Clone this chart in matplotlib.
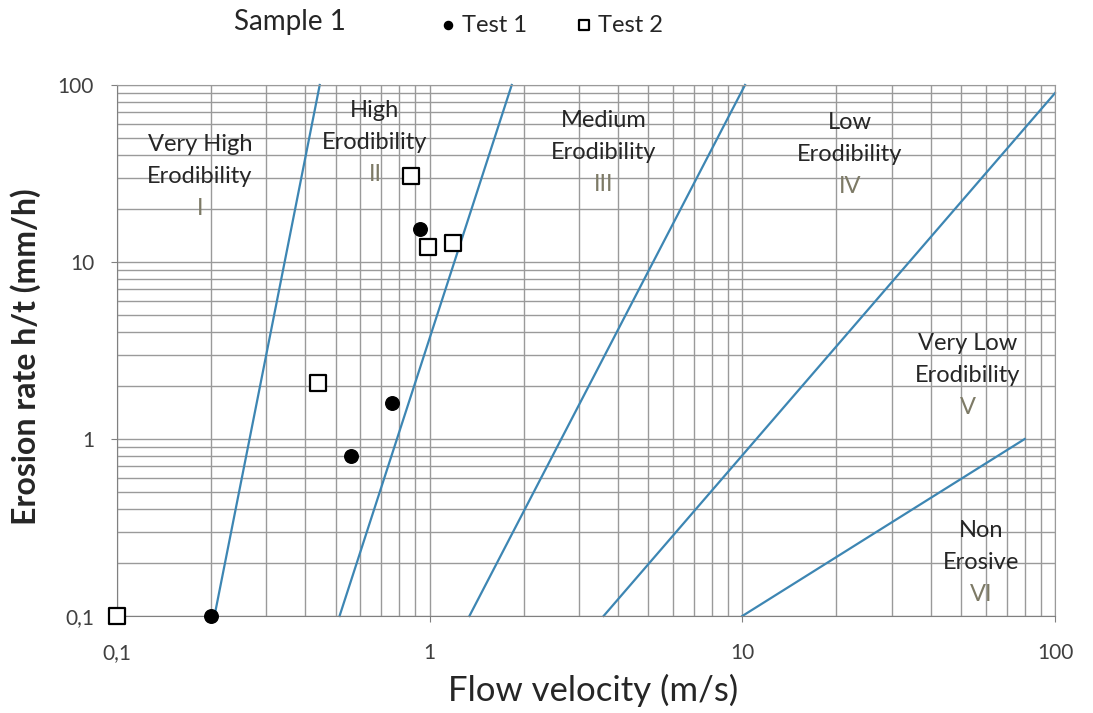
import numpy as np
import matplotlib.pyplot as plt
from matplotlib.ticker import FixedLocator, LogLocator, NullFormatter

plt.rcParams['font.family'] = ['Lato', 'DejaVu Sans']

# test results: velocity (m/s), erosion rate (mm/h)
test1_v = [0.2, 0.56, 0.76, 0.93]
test1_e = [0.1, 0.80, 1.6, 15.4]
test2_v = [0.1, 0.44, 0.87, 0.99, 1.19]
test2_e = [0.1, 2.07, 30.5, 12.2, 12.8]

# erodibility category boundaries (start/end points)
bound_v = [(0.205, 0.445), (0.515, 1.83), (1.34, 10.2), (3.6, 100), (10, 80)]
bound_e = [(0.1, 100), (0.1, 100), (0.1, 100), (0.1, 90), (0.1, 1)]

zone_names = [("Very High", "Erodibility"), ("High", "Erodibility"),
              ("Medium", "Erodibility"), ("Low", "Erodibility"),
              ("Very Low", "Erodibility"), ("Non", "Erosive")]
zone_roman = ["I", "II", "III", "IV", "V", "VI"]
# centre of the middle text line of each zone
zone_x = [0.184, 0.668, 3.61, 22.1, 52.7, 58.0]
zone_y = [30.6, 47.6, 41.8, 40.7, 2.27, 0.20]

xticks = [0.1, 1, 10, 100]
xtick_labels = ["0,1", "1", "10", "100"]
yticks = [0.1, 1, 10, 100]
ytick_labels = ["0,1", "1", "10", "100"]

W, H = 1093, 713
fig = plt.figure(figsize=(W / 100, H / 100), dpi=100)
ax = fig.add_axes([117 / W, 1 - 616 / H, (1055 - 117) / W, (616 - 85) / H])
ax.set_xscale('log')
ax.set_yscale('log')
ax.set_xlim(0.1, 100)
ax.set_ylim(0.1, 100)

grid_col = '#9a9a9a'
text_col = '#262626'
ax.xaxis.set_minor_locator(LogLocator(base=10, subs=np.arange(2, 10)))
ax.yaxis.set_minor_locator(LogLocator(base=10, subs=np.arange(2, 10)))
ax.xaxis.set_minor_formatter(NullFormatter())
ax.yaxis.set_minor_formatter(NullFormatter())
ax.grid(True, which='both', color=grid_col, lw=1.0)
ax.set_axisbelow(True)

ax.xaxis.set_major_locator(FixedLocator(xticks))
ax.yaxis.set_major_locator(FixedLocator(yticks))
ax.set_xticklabels(xtick_labels)
ax.set_yticklabels(ytick_labels)
ax.tick_params(which='major', direction='out', length=4.5, color='#808080',
               labelsize=15, labelcolor='#404040')
ax.tick_params(axis='x', pad=15)
ax.tick_params(axis='y', pad=12)
ax.tick_params(which='minor', length=0)
for side in ['left', 'bottom']:
    ax.spines[side].set_color('#808080')
for side in ['top', 'right']:
    ax.spines[side].set_color(grid_col)

for v, e in zip(bound_v, bound_e):
    ax.plot(v, e, color='#3d86b3', lw=1.6, zorder=2, clip_on=False)

ax.scatter(test1_v, test1_e, s=95, marker='o', color='black', zorder=4,
           clip_on=False, label='Test 1')
ax.scatter(test2_v, test2_e, s=120, marker='s', facecolor='white',
           edgecolor='black', linewidth=1.6, zorder=4, clip_on=False,
           label='Test 2')

# three-line zone labels, 32 px between lines
step = 32 * 72 / 100
for (l1, l2), rom, x, y in zip(zone_names, zone_roman, zone_x, zone_y):
    ax.annotate(l1, (x, y), xytext=(0, step), textcoords='offset points',
                ha='center', va='center', fontsize=17, color=text_col)
    ax.annotate(l2, (x, y), xytext=(0, 0), textcoords='offset points',
                ha='center', va='center', fontsize=17, color=text_col)
    ax.annotate(rom, (x, y), xytext=(0, -step), textcoords='offset points',
                ha='center', va='center', fontsize=17, color='#7d7a66')

fig.text(593 / W, 1 - 690 / H, 'Flow velocity (m/s)', ha='center',
         va='center', fontsize=25, color=text_col)
fig.text(26 / W, 1 - 357 / H, 'Erosion rate h/t (mm/h)', ha='center',
         va='center', rotation=90, fontsize=23, fontweight='bold',
         color=text_col)

fig.text(290 / W, 1 - 22 / H, 'Sample 1', ha='center', va='center',
         fontsize=20, color=text_col)
fig.legend(loc='center', bbox_to_anchor=(551 / W, 1 - 25 / H), ncol=2,
           frameon=False, fontsize=17, handlelength=0.8, handletextpad=0.2,
           columnspacing=2.0, markerscale=0.6, labelcolor=text_col)

fig.savefig('out.png', dpi=100)
